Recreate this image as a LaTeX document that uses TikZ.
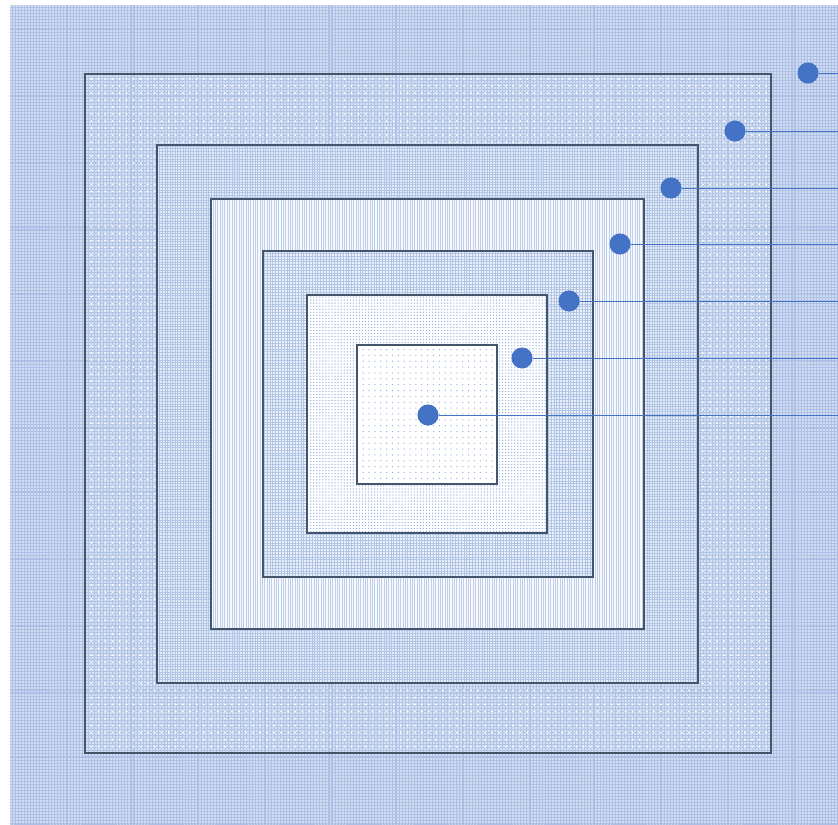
\documentclass[tikz,border=0pt]{standalone}
\usetikzlibrary{patterns,patterns.meta}
\definecolor{accentblue}{HTML}{4472C4}
\definecolor{frameslate}{HTML}{44546A}

\begin{document}
\begin{tikzpicture}[
    x=0.3mm, y=-0.3mm,
    frame/.style={draw=frameslate, line width=1.8pt},
    marker/.style={circle, fill=accentblue, inner sep=0pt, minimum size=18pt},
    leader/.style={draw=accentblue, line width=0.8pt}
]
\useasboundingbox (0,0) rectangle (838,824);

% Background panel
\fill[white] (0,0) rectangle (838,824);
\fill[accentblue!24] (10,5) rectangle (838,824);
\fill[pattern={Hatch[distance=2.6pt, line width=0.9pt]}, pattern color=accentblue!45] (10,5) rectangle (838,824);

% Outer ring
\fill[accentblue!22] (85,74) rectangle (771,753);
\fill[pattern={Hatch[distance=2.6pt, line width=0.9pt]}, pattern color=accentblue!42] (85,74) rectangle (771,753);
\fill[pattern={Dots[distance=6pt, radius=0.9pt]}, pattern color=white] (85,74) rectangle (771,753);

% Second ring
\fill[accentblue!14] (157,145) rectangle (698,683);
\fill[pattern={Hatch[distance=2.2pt, line width=0.6pt]}, pattern color=accentblue!42] (157,145) rectangle (698,683);

% Third ring
\fill[accentblue!4] (211,199) rectangle (644,629);
\fill[pattern={Lines[angle=90, distance=2pt, line width=0.8pt]}, pattern color=accentblue!34] (211,199) rectangle (644,629);

% Fourth ring
\fill[accentblue!10] (263,251) rectangle (593,577);
\fill[pattern={Hatch[distance=2.4pt, line width=0.5pt]}, pattern color=accentblue!42] (263,251) rectangle (593,577);

% Fifth ring
\fill[white] (307,295) rectangle (547,533);
\fill[pattern={Dots[distance=2.6pt, radius=0.6pt]}, pattern color=accentblue!55] (307,295) rectangle (547,533);

% Core
\fill[white] (357,345) rectangle (497,484);
\fill[pattern={Dots[distance=5pt, radius=0.55pt]}, pattern color=accentblue!60] (357,345) rectangle (497,484);

% Frames
\draw[frame] (85,74) rectangle (771,753);
\draw[frame] (157,145) rectangle (698,683);
\draw[frame] (211,199) rectangle (644,629);
\draw[frame] (263,251) rectangle (593,577);
\draw[frame] (307,295) rectangle (547,533);
\draw[frame] (357,345) rectangle (497,484);

% Markers and leader lines
\foreach \i/\x/\y in {1/808/73, 2/735/131, 3/671/188, 4/620/244, 5/569/301, 6/522/358, 7/428/415} {
    \node[marker] (m\i) at (\x,\y) {};
    \coordinate (e\i) at (838,\y);
    \draw[leader] (m\i) -- (e\i);
}

\end{tikzpicture}
\end{document}
